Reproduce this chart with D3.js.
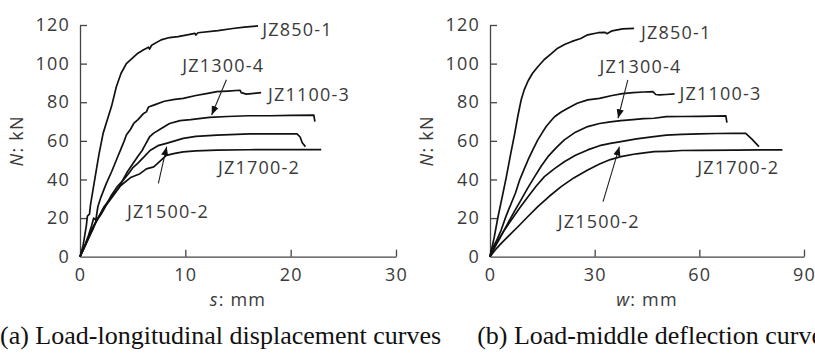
<!DOCTYPE html>
<html><head><meta charset="utf-8">
<script src="https://cdn.jsdelivr.net/npm/d3@7"></script>
<style>
html,body{margin:0;padding:0;background:#fff;}
svg{display:block;}
.tk{font-family:"Open Sans",sans-serif;font-size:18px;fill:#3a3a3a;letter-spacing:1.2px;}
.cap{font-family:"Liberation Serif","Times New Roman",serif;font-size:26px;fill:#111;}
</style></head>
<body>
<script>
// ---------- data ----------
const yTicks = [0, 20, 40, 60, 80, 100, 120];
const xTicksA = [0, 10, 20, 30];
const xTicksB = [0, 30, 60, 90];
const seriesNames = ["JZ850-1", "JZ1100-3", "JZ1300-4", "JZ1500-2", "JZ1700-2"];

// (a) N vs s
const a_JZ850_1 = [[0,0],[0.3,6],[0.6,16],[0.7,21],[0.9,22],[1.0,27],[1.4,40],[1.8,53],[2.2,64],[2.6,71],[3.0,78],[3.45,88],[3.9,95],[4.4,100],[5.0,103],[5.5,105.4],[6.0,107],[6.5,108.5],[6.6,107.5],[6.8,109.5],[7.7,112.3],[8.5,113.5],[9.3,114],[10.3,115],[10.9,115.7],[11.0,114.8],[11.2,116],[13.1,117.1],[14.5,118.2],[15.6,118.9],[16.9,119.5]];
const a_JZ1100_3 = [[0,0],[0.4,5],[0.8,11],[1.1,16],[1.3,20],[1.5,19],[1.7,26],[2.0,31],[2.5,38],[3.0,44],[3.3,48],[3.6,52],[3.9,56],[4.2,60],[4.4,63],[4.8,66],[5.1,69],[5.5,71],[6.0,74],[6.3,75],[6.5,77.5],[7.0,78.5],[8.0,80.5],[9.0,81.5],[9.8,82],[11,83.5],[12,84.5],[13,85.5],[14,85.8],[15.2,86.2],[15.3,85],[15.8,84.2],[16.3,84.5],[17.2,85]];
const a_JZ1300_4 = [[0,0],[0.6,7],[1.2,14],[1.5,18],[2.0,22],[2.4,26],[2.8,29],[3.2,32],[3.6,35],[4.0,39],[4.5,44],[5.0,48],[5.5,52],[5.9,55],[6.2,58],[6.6,62],[7.0,64],[7.6,66],[8.5,69],[9.5,70.5],[10.5,71],[12.3,72.2],[14,72.6],[16,73],[18,73],[20,73.2],[22.2,73.3],[22.3,70]];
const a_JZ1500_2 = [[0,0],[0.5,6],[1.0,12],[1.7,20],[2.2,24],[2.6,28],[3.0,32],[3.5,36],[4.0,39],[4.6,43],[5.0,46],[5.5,48.5],[6.1,51.8],[6.65,55],[7.4,57.5],[8.2,58.7],[9.0,60],[9.8,61.3],[11,62.3],[13,63],[16.1,63.6],[18,63.6],[20.6,63.6],[20.9,62],[21.1,59],[21.4,57]];
const a_JZ1700_2 = [[0,0],[0.5,6],[1.07,13.8],[1.7,20],[2.3,26],[3.0,31],[3.9,37],[4.8,41],[5.7,43],[6.3,45.5],[7.0,46.5],[7.5,49],[8.2,52.5],[9.0,53.5],[9.8,54.3],[11,54.8],[13,55.2],[16,55.4],[20,55.5],[22.9,55.5]];

// (b) N vs w
const b_JZ850_1 = [[0,0],[1.2,10],[2.3,20.7],[3.5,31],[4.7,41.5],[5.9,53],[7.0,63],[8.0,73],[8.9,81],[9.8,86.4],[10.9,91],[12.2,95],[13.7,98.4],[15.5,102],[17.5,105],[19.4,108],[21.5,110],[23.5,111.5],[26,113],[28,114.9],[31,116],[33,116.2],[33.5,115.5],[35,117],[38,118],[41.3,118.3]];
const b_JZ1100_3 = [[0,0],[0.4,3.5],[1.8,8],[3.2,13.8],[4.6,21],[6.1,27.7],[7.3,33],[8.5,39.7],[9.7,45],[10.9,50.1],[12.3,55.5],[13.7,60.5],[14.9,64],[16.1,67.4],[17.3,70],[18.5,72.5],[20.3,74.8],[22.3,76.9],[25,79.5],[28,81.2],[31.4,82],[35,83.5],[38,84.5],[41,85],[44,85.3],[46.7,85.5],[47.5,84],[48.6,83.8],[50.5,84],[52.9,84.3]];
const b_JZ1300_4 = [[0,0],[0.4,2],[2.5,8.5],[5.1,17.3],[7,23.5],[8.9,29.4],[10.8,35.5],[12.8,41.5],[14.7,47],[16.6,51.8],[19,56.5],[21.3,60.5],[24.5,64.5],[28,67.4],[31.4,69],[34.5,69.8],[37.5,70.5],[41,71],[44,71.5],[47,71.7],[50.5,72.5],[55,72.6],[60,72.7],[64,72.8],[67.6,72.9],[67.9,69.4]];
const b_JZ1500_2 = [[0,0],[2.3,8.6],[4.2,14],[6.1,19],[8.5,25.2],[10.9,31.1],[13.2,36.5],[15.6,41.5],[18.4,45.5],[21.3,49.2],[24.5,52.5],[28,55.3],[31.4,57.5],[34.5,58.7],[37.5,59.6],[42,61],[47,62.2],[50.5,63],[55,63.4],[60,63.6],[65,63.8],[70,63.9],[73.3,63.9],[75,61],[77.1,57]];
const b_JZ1700_2 = [[0,0],[1.5,3.5],[3.2,6.9],[5.5,11],[8,15.5],[10.8,20.7],[13.7,25.9],[17,31.3],[20.4,36.3],[24,40.8],[28,44.9],[31.4,48],[34.5,50.3],[37.5,51.8],[42,53.3],[47,54.4],[50.5,54.6],[55,55],[60,55.1],[70,55.2],[77,55.3],[83.8,55.3]];

// label anchors (data units): [name, x, y]
const labelsA = [["JZ850-1",17.3,117.8],["JZ1300-4",9.7,99],["JZ1100-3",17.85,83.8],["JZ1700-2",13.1,46],["JZ1500-2",4.46,23.3]];
const labelsB = [["JZ850-1",43.3,115.9],["JZ1300-4",31.4,98.4],["JZ1100-3",54.3,84.3],["JZ1700-2",59.4,46],["JZ1500-2",19.4,18.1]];
// arrows (data units): [x0,y0,x1,y1] tail -> tip
const arrowsA = [[13.9,91.6,12.5,73.4],[7.44,38,8.23,57]];
const arrowsB = [[39.5,91.6,36.7,71.7],[32.4,28.5,37.1,57]];
const captions = ["(a) Load-longitudinal displacement curves", "(b) Load-middle deflection curves"];

// ---------- drawing ----------
const W = 815, H = 358;
const svg = d3.select("body").append("svg").attr("width", W).attr("height", H);
svg.append("defs").append("marker")
  .attr("id","ah").attr("viewBox","0 0 10 10").attr("refX",10).attr("refY",5)
  .attr("markerWidth",9).attr("markerHeight",9).attr("markerUnits","userSpaceOnUse").attr("orient","auto")
  .append("path").attr("d","M0,1 L10,5 L0,9 Z").attr("fill","#111");

function panel(x0, x1, xMax, xTicks, series, labels, arrows, xVar) {
  const x = d3.scaleLinear().domain([0, xMax]).range([x0, x1]);
  const y = d3.scaleLinear().domain([0, 120]).range([256.7, 25]);
  const g = svg.append("g");

  const ax = g.append("g").attr("transform", `translate(0,${y(0)})`)
    .call(d3.axisBottom(x).tickValues(xTicks).tickSize(-7).tickSizeOuter(0).tickPadding(12));
  const ay = g.append("g").attr("transform", `translate(${x(0)},0)`)
    .call(d3.axisLeft(y).tickValues(yTicks).tickSize(-7).tickSizeOuter(0).tickPadding(10));
  [ax, ay].forEach(a => {
    a.select(".domain").attr("stroke","#444").attr("stroke-width",1.3);
    a.selectAll(".tick line").attr("stroke","#444").attr("stroke-width",1.3);
    a.selectAll(".tick text").attr("class","tk").attr("font-family",null).attr("font-size",null).attr("fill",null);
  });
  ax.selectAll(".tick").filter(d => d === 0).select("line").remove();
  ay.selectAll(".tick").filter(d => d === 0).select("line").remove();

  const line = d3.line().x(d => x(d[0])).y(d => y(d[1])).curve(d3.curveLinear);
  series.forEach(s => {
    g.append("path").datum(s).attr("d", line)
      .attr("fill","none").attr("stroke","#111").attr("stroke-width",1.7).attr("stroke-linejoin","round");
  });

  labels.forEach(l => {
    g.append("text").attr("class","tk").attr("x", x(l[1])).attr("y", y(l[2])).attr("dy","0.36em").text(l[0]);
  });
  arrows.forEach(a => {
    g.append("line").attr("x1", x(a[0])).attr("y1", y(a[1])).attr("x2", x(a[2])).attr("y2", y(a[3]))
      .attr("stroke","#222").attr("stroke-width",1.1).attr("marker-end","url(#ah)");
  });

  const yl = g.append("text").attr("class","tk").attr("text-anchor","middle")
    .attr("transform", `translate(${x(0) - 57},${(y(0)+y(120))/2}) rotate(-90)`);
  yl.append("tspan").attr("font-style","italic").text("N");
  yl.append("tspan").text(": kN");
  const xl = g.append("text").attr("class","tk").attr("text-anchor","middle")
    .attr("x", (x0 + x1) / 2).attr("y", 306);
  xl.append("tspan").attr("font-style","italic").text(xVar);
  xl.append("tspan").text(": mm");
}

panel(80, 396, 30, xTicksA, [a_JZ850_1, a_JZ1100_3, a_JZ1300_4, a_JZ1500_2, a_JZ1700_2], labelsA, arrowsA, "s");
panel(490, 804, 90, xTicksB, [b_JZ850_1, b_JZ1100_3, b_JZ1300_4, b_JZ1500_2, b_JZ1700_2], labelsB, arrowsB, "w");

// captions: single line, the second one runs off the right edge as in the source
const capLine = svg.append("text").attr("class","cap").attr("x", 0).attr("y", 344);
capLine.append("tspan").text(captions[0]);
capLine.append("tspan").attr("dx", 36).text(captions[1]);
</script>
</body></html>
